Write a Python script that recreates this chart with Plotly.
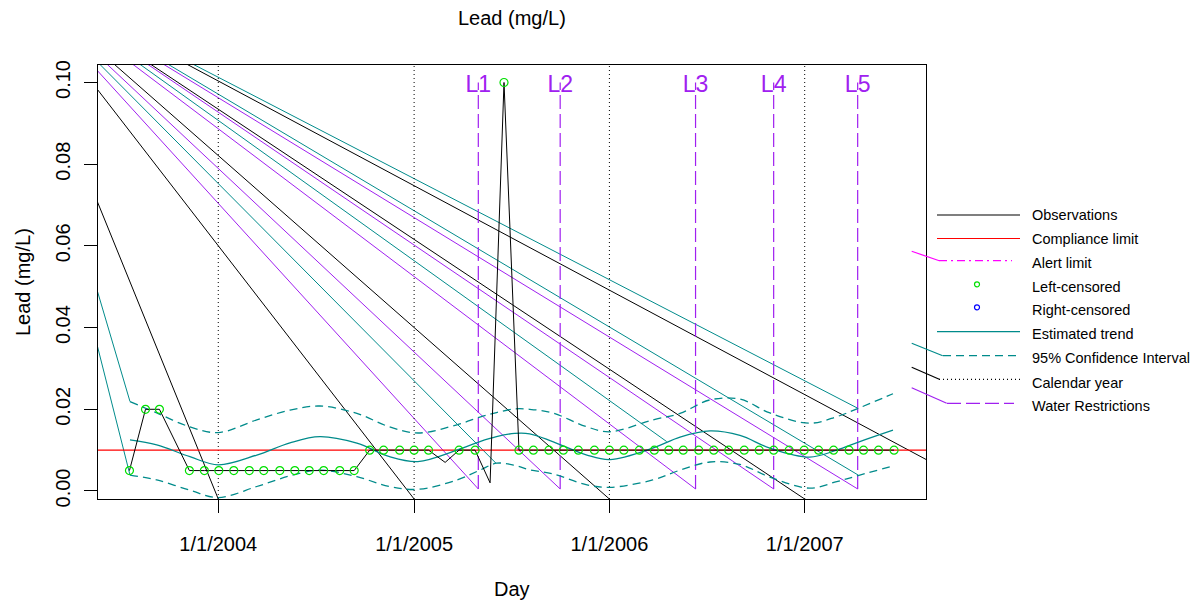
import plotly.graph_objects as go

# ---------------- data ----------------
obs_dates = [
    "2003-07-19", "2003-08-18", "2003-09-13", "2003-11-08", "2003-12-06",
    "2004-01-02", "2004-01-30", "2004-02-28", "2004-03-26", "2004-04-25",
    "2004-05-23", "2004-06-19", "2004-07-16", "2004-08-15", "2004-09-11",
    "2004-10-10", "2004-11-05", "2004-12-05", "2005-01-01", "2005-01-28",
    "2005-02-28", "2005-03-26", "2005-04-25", "2005-05-23", "2005-06-18",
    "2005-07-16", "2005-08-12", "2005-09-10", "2005-10-07", "2005-11-04",
    "2005-12-04", "2006-01-01", "2006-01-28", "2006-02-26", "2006-03-26",
    "2006-04-22", "2006-05-19", "2006-06-17", "2006-07-15", "2006-08-12",
    "2006-09-10", "2006-10-08", "2006-11-04", "2006-12-03", "2006-12-31",
    "2007-01-27", "2007-02-24", "2007-03-25", "2007-04-21", "2007-05-19",
    "2007-06-17",
]
obs_values = [
    0.005, 0.02, 0.02, 0.005, 0.005,
    0.005, 0.005, 0.005, 0.005, 0.005,
    0.005, 0.005, 0.005, 0.005, 0.005,
    0.01, 0.01, 0.01, 0.01, 0.01,
    0.007, 0.01, 0.01, 0.002, 0.1,
    0.01, 0.01, 0.01, 0.01, 0.01,
    0.01, 0.01, 0.01, 0.01, 0.01,
    0.01, 0.01, 0.01, 0.01, 0.01,
    0.01, 0.01, 0.01, 0.01, 0.01,
    0.01, 0.01, 0.01, 0.01, 0.01,
    0.01,
]
obs_left_censored = [
    True, True, True, True, True,
    True, True, True, True, True,
    True, True, True, True, True,
    True, True, True, True, True,
    False, True, True, False, True,
    True, True, True, True, True,
    True, True, True, True, True,
    True, True, True, True, True,
    True, True, True, True, True,
    True, True, True, True, True,
    True,
]

curve_dates = [
    "2003-07-20", "2003-09-08", "2003-11-09", "2004-01-01", "2004-03-13",
    "2004-05-14", "2004-07-09", "2004-09-16", "2004-11-16", "2005-01-08",
    "2005-03-22", "2005-05-04", "2005-06-04", "2005-07-08", "2005-08-05",
    "2005-09-17", "2005-11-20", "2006-01-02", "2006-03-23", "2006-05-13",
    "2006-07-08", "2006-09-02", "2006-10-28", "2007-01-10", "2007-03-02",
    "2007-04-14", "2007-06-15",
]
trend_values = [
    0.0125, 0.0113, 0.0084, 0.0064, 0.0088,
    0.0118, 0.0133, 0.0117, 0.0084, 0.0072,
    0.0100, 0.0121, 0.0133, 0.0141, 0.0140,
    0.0121, 0.0088, 0.0077, 0.0105, 0.0132,
    0.0147, 0.0136, 0.0105, 0.0083, 0.0100,
    0.0121, 0.0149,
]
ci_upper_values = [
    0.0219, 0.0191, 0.0157, 0.0143, 0.0174,
    0.0198, 0.0208, 0.0190, 0.0157, 0.0142,
    0.0162, 0.0181, 0.0192, 0.0201, 0.0200,
    0.0191, 0.0157, 0.0145, 0.0174, 0.0190,
    0.0223, 0.0225, 0.0191, 0.0166, 0.0182,
    0.0204, 0.0238,
]
ci_lower_values = [
    0.0039, 0.0027, 0.0002, -0.0016, 0.0011,
    0.0037, 0.0051, 0.0035, 0.0011, 0.0004,
    0.0027, 0.0051, 0.0068, 0.0063, 0.0052,
    0.0042, 0.0015, 0.0009, 0.0027, 0.0051,
    0.0071, 0.0065, 0.0034, 0.0007, 0.0023,
    0.0039, 0.0061,
]

compliance_limit = 0.01

calendar_years = ["2004-01-01", "2005-01-01", "2006-01-01", "2007-01-01", "2008-01-01"]
x_tick_dates = ["2004-01-01", "2005-01-01", "2006-01-01", "2007-01-01"]
x_tick_labels = ["1/1/2004", "1/1/2005", "1/1/2006", "1/1/2007"]

restriction_dates = ["2005-05-01", "2005-10-01", "2006-06-11", "2006-11-04", "2007-04-10"]
restriction_labels = ["L1", "L2", "L3", "L4", "L5"]
restriction_low = 0.0005
restriction_high = 0.1
restriction_label_level = 0.0991

# stray strokes of the original graphics device: every dashed/dotted path
# was started from one common off-plot point
artifact_origin_date = "2002-11-21"
artifact_origin_value = 0.1288
ci_break_dates = ["2003-07-20", "2003-07-20", "2005-06-03", "2006-04-18", "2007-04-11", "2007-04-11"]
ci_break_values = [0.0219, 0.0039, 0.0068, 0.0121, 0.0202, 0.0039]

y_ticks = [0.0, 0.02, 0.04, 0.06, 0.08, 0.10]
y_tick_labels = ["0.00", "0.02", "0.04", "0.06", "0.08", "0.10"]

x_range = ["2003-05-21 05:00", "2007-08-15 17:00"]
y_range = [-0.00196, 0.10428]

legend_labels = [
    "Observations", "Compliance limit", "Alert limit", "Left-censored",
    "Right-censored", "Estimated trend", "95% Confidence Interval",
    "Calendar year", "Water Restrictions",
]

# ---------------- styling ----------------
TEAL = "#008B8B"
PURPLE = "#A020F0"
GREEN = "#00E000"
FONT = "Liberation Sans, Arial, sans-serif"

W, H = 1197, 604
L, R, T, B = 98, 926, 65, 499


def px(x):
    return (x - L) / (R - L)


def py(y):
    return (B - y) / (B - T)


fig = go.Figure()


def connectors(end_dates, end_values, color):
    xs, ys = [], []
    for d, v in zip(end_dates, end_values):
        xs += [artifact_origin_date, d, None]
        ys += [artifact_origin_value, v, None]
    fig.add_trace(go.Scatter(x=xs, y=ys, mode="lines",
                             line=dict(color=color, width=1),
                             hoverinfo="skip", showlegend=False))


connectors(calendar_years, [y_range[0]] * len(calendar_years), "black")
connectors(restriction_dates, [restriction_low] * len(restriction_dates), PURPLE)
connectors(ci_break_dates, ci_break_values, TEAL)

# calendar year lines
cx, cy = [], []
for d in calendar_years:
    cx += [d, d, None]
    cy += [y_range[0], y_range[1], None]
fig.add_trace(go.Scatter(x=cx, y=cy, mode="lines",
                         line=dict(color="black", width=1, dash="1px,3px"),
                         hoverinfo="skip", showlegend=False))

# water restriction lines
rx, ry = [], []
for d in restriction_dates:
    rx += [d, d, None]
    ry += [restriction_low, restriction_high, None]
fig.add_trace(go.Scatter(x=rx, y=ry, mode="lines",
                         line=dict(color=PURPLE, width=1.2, dash="14px,5px"),
                         hoverinfo="skip", showlegend=False))
fig.add_trace(go.Scatter(x=restriction_dates,
                         y=[restriction_label_level] * len(restriction_dates),
                         mode="text", text=restriction_labels,
                         textfont=dict(family=FONT, size=23, color=PURPLE),
                         textposition="middle center",
                         hoverinfo="skip", showlegend=False))

# compliance limit
fig.add_trace(go.Scatter(x=[x_range[0], x_range[1]],
                         y=[compliance_limit, compliance_limit], mode="lines",
                         line=dict(color="red", width=1.3),
                         hoverinfo="skip", showlegend=False))

# CI and trend
fig.add_trace(go.Scatter(x=curve_dates, y=ci_upper_values, mode="lines",
                         line=dict(color=TEAL, width=1.3, dash="8px,5px", shape="spline"),
                         showlegend=False))
fig.add_trace(go.Scatter(x=curve_dates, y=ci_lower_values, mode="lines",
                         line=dict(color=TEAL, width=1.3, dash="8px,5px", shape="spline"),
                         showlegend=False))
fig.add_trace(go.Scatter(x=curve_dates, y=trend_values, mode="lines",
                         line=dict(color=TEAL, width=1.3, shape="spline"),
                         showlegend=False))

# observations
fig.add_trace(go.Scatter(x=obs_dates, y=obs_values, mode="lines",
                         line=dict(color="black", width=1),
                         showlegend=False))
cens_x = [d for d, c in zip(obs_dates, obs_left_censored) if c]
cens_y = [v for v, c in zip(obs_values, obs_left_censored) if c]
fig.add_trace(go.Scatter(x=cens_x, y=cens_y, mode="markers",
                         marker=dict(symbol="circle-open", size=8, color=GREEN,
                                     line=dict(width=1.2, color=GREEN)),
                         cliponaxis=False, showlegend=False))

# ---------------- legend (hand-built, like base R) ----------------
shapes = []
annotations = []
line_rows = [215, 238.5, 260.7, 284.3, 307.3, 331.7, 355.7, 379.3, 403.3]
text_rows = [215, 239.3, 262.7, 286.7, 310, 334.3, 357.7, 382.7, 406]
styles = [
    ("line", "black", "solid", 937, 1020),
    ("line", "red", "solid", 937, 1020),
    ("line", "#FF00FF", "8px,4px,2px,4px", 939, 1012),
    ("circle", GREEN, None, 977, 977),
    ("circle", "#0000FF", None, 977, 977),
    ("line", TEAL, "solid", 937, 1020),
    ("line", TEAL, "8px,5px", 943, 1020),
    ("line", "black", "1px,3px", 939, 1020),
    ("line", PURPLE, "14px,5px", 947, 1014),
]
for (kind, col, dash, x0, x1), ly in zip(styles, line_rows):
    if kind == "line":
        shapes.append(dict(type="line", xref="paper", yref="paper",
                           x0=px(x0), x1=px(x1), y0=py(ly), y1=py(ly),
                           line=dict(color=col, width=1.2, dash=dash)))
    else:
        shapes.append(dict(type="circle", xref="paper", yref="paper",
                           xsizemode="pixel", ysizemode="pixel",
                           xanchor=px(x0), yanchor=py(ly),
                           x0=-2.5, x1=2.5, y0=-2.5, y1=2.5,
                           line=dict(color=col, width=1.2)))
for (x0, y0, x1, y1, col) in [
    (911.7, 251.3, 939.3, 260.7, "#FF00FF"),
    (911.7, 343.3, 942.7, 355.7, TEAL),
    (911.7, 367.3, 939.3, 379.3, "black"),
    (911.7, 387.7, 946.7, 403.3, PURPLE),
]:
    shapes.append(dict(type="line", xref="paper", yref="paper",
                       x0=px(x0), x1=px(x1), y0=py(y0), y1=py(y1),
                       line=dict(color=col, width=1.2)))

for lab, ty in zip(legend_labels, text_rows):
    annotations.append(dict(text=lab, xref="paper", yref="paper",
                            x=px(1030), y=py(ty), xanchor="left", yanchor="middle",
                            showarrow=False, font=dict(family=FONT, size=14.5, color="black")))

# titles
annotations.append(dict(text="Lead (mg/L)", xref="paper", yref="paper",
                        x=px(512), y=py(18), xanchor="center", yanchor="middle",
                        showarrow=False, font=dict(family=FONT, size=20, color="black")))
annotations.append(dict(text="Day", xref="paper", yref="paper",
                        x=px(512), y=py(589), xanchor="center", yanchor="middle",
                        showarrow=False, font=dict(family=FONT, size=20, color="black")))
annotations.append(dict(text="Lead (mg/L)", xref="paper", yref="paper",
                        x=px(23), y=py(282), xanchor="center", yanchor="middle",
                        textangle=-90,
                        showarrow=False, font=dict(family=FONT, size=20, color="black")))

fig.update_layout(
    width=W, height=H,
    margin=dict(l=L, r=W - R, t=T, b=H - B, pad=0),
    paper_bgcolor="white", plot_bgcolor="white",
    showlegend=False,
    shapes=shapes, annotations=annotations,
    font=dict(family=FONT, size=20, color="black"),
)
fig.update_xaxes(
    type="date", range=x_range, showgrid=False, zeroline=False,
    showline=True, linecolor="black", linewidth=1, mirror=True,
    tickmode="array", tickvals=x_tick_dates, ticktext=x_tick_labels,
    ticks="outside", ticklen=13, tickwidth=1, tickcolor="black",
    tickfont=dict(family=FONT, size=20, color="black"),
    ticklabelstandoff=14,
)
fig.update_yaxes(
    range=y_range, showgrid=False, zeroline=False,
    showline=True, linecolor="black", linewidth=1, mirror=True,
    tickmode="array", tickvals=y_ticks, ticktext=y_tick_labels,
    ticks="outside", ticklen=13, tickwidth=1, tickcolor="black",
    tickangle=-90,
    tickfont=dict(family=FONT, size=20, color="black"),
    ticklabelstandoff=6,
)

fig.write_html(
    "out.html",
    config={"displayModeBar": False},
    post_script="document.body.style.margin='0';document.body.style.overflow='hidden';",
)
